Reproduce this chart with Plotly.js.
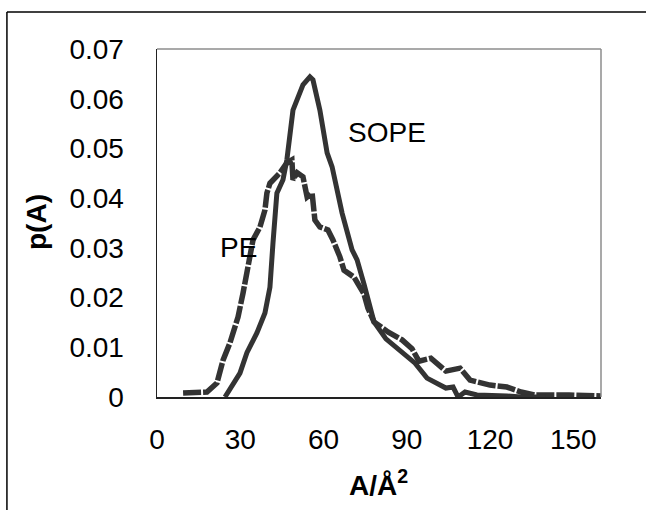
<!DOCTYPE html>
<html>
<head>
<meta charset="utf-8">
<script src="https://cdn.plot.ly/plotly-3.0.1.min.js"></script>
<style>html,body{margin:0;padding:0;background:#fff;}#chart{width:646px;height:510px;}</style>
</head>
<body>
<div id="chart"></div>
<script>
// SOPE (solid line)
var sopeX = [24.5, 25.6, 29.9, 32.4, 36.0, 38.9, 40.7, 41.8, 43.2, 45.4, 46.8, 49.0, 52.6, 55.1, 56.2, 58.7, 61.3, 63.1, 66.7, 70.3, 72.1, 74.6, 76.4, 78.2, 82.5, 86.8, 93.0, 97.3, 104.1, 106.7, 108.5, 111.0, 115.3, 126.1, 131.2, 140];
var sopeY = [0, 0.001, 0.0048, 0.0089, 0.0129, 0.0169, 0.0221, 0.031, 0.041, 0.0437, 0.0477, 0.0577, 0.0628, 0.0644, 0.0638, 0.0577, 0.0491, 0.0463, 0.037, 0.0296, 0.0276, 0.0227, 0.0193, 0.0151, 0.0117, 0.0097, 0.0068, 0.0038, 0.0018, 0.002, 0, 0.001, 0.0004, 0.0002, 0, 0];
// PE (dashed line)
var peX = [9.4, 18.0, 21.6, 23.8, 26.3, 29.2, 31.0, 32.8, 34.6, 37.1, 38.9, 39.6, 40.7, 44.3, 46.8, 48.6, 49.0, 50.5, 52.6, 54.1, 55.9, 56.9, 58.7, 61.6, 63.4, 65.9, 67.4, 71.0, 74.6, 76.0, 78.2, 83.2, 88.3, 91.9, 94.4, 98.7, 104.1, 109.2, 112.8, 120.0, 126.1, 131.2, 136.2, 148.5, 160];
var peY = [0.0008, 0.001, 0.0028, 0.0074, 0.0109, 0.0161, 0.0209, 0.0262, 0.0316, 0.0342, 0.0376, 0.041, 0.043, 0.0451, 0.0471, 0.0477, 0.0437, 0.0451, 0.0443, 0.0402, 0.041, 0.0356, 0.0342, 0.0336, 0.0316, 0.0282, 0.0255, 0.0241, 0.0207, 0.0179, 0.0151, 0.0131, 0.0115, 0.0097, 0.0072, 0.0078, 0.0052, 0.0058, 0.0034, 0.0024, 0.002, 0.001, 0.0004, 0.0004, 0.0002];
var xTicks = [0, 30, 60, 90, 120, 150];
var yTicks = [0, 0.01, 0.02, 0.03, 0.04, 0.05, 0.06, 0.07];
var yTickText = ['0', '0.01', '0.02', '0.03', '0.04', '0.05', '0.06', '0.07'];

var font = 'Liberation Sans, Arial, sans-serif';
var traces = [
  {x: peX, y: peY, mode: 'lines', line: {color: '#333333', width: 5.5, dash: '18px,2px'}, name: 'PE'},
  {x: sopeX, y: sopeY, mode: 'lines', line: {color: '#333333', width: 5}, name: 'SOPE'}
];
var layout = {
  width: 646, height: 510,
  margin: {l: 157, r: 45, t: 49, b: 113, pad: 0},
  paper_bgcolor: '#ffffff', plot_bgcolor: '#ffffff',
  showlegend: false,
  font: {family: font, color: '#000000', size: 28},
  xaxis: {
    range: [0, 160], tickvals: xTicks, ticks: '', showgrid: false, zeroline: false,
    showline: true, linecolor: '#222222', linewidth: 1.5,
    tickfont: {family: font, size: 28, color: '#000'}, ticklabelstandoff: 17
  },
  yaxis: {
    range: [0, 0.07], tickvals: yTicks, ticktext: yTickText, ticks: '', showgrid: false, zeroline: false,
    showline: true, linecolor: '#222222', linewidth: 1.5,
    tickfont: {family: font, size: 28, color: '#000'}, ticklabelstandoff: 26
  },
  shapes: [
    {type: 'line', xref: 'paper', yref: 'paper', x0: 0, x1: 1, y0: 1, y1: 1, line: {color: '#8c8c8c', width: 1.5}},
    {type: 'line', xref: 'paper', yref: 'paper', x0: 1, x1: 1, y0: 0, y1: 1, line: {color: '#8c8c8c', width: 1.5}},
    {type: 'line', xref: 'paper', yref: 'paper', x0: -0.338, x1: 1.11, y0: 1.106, y1: 1.106, line: {color: '#000', width: 1.5}},
    {type: 'line', xref: 'paper', yref: 'paper', x0: -0.338, x1: -0.338, y0: -0.33, y1: 1.106, line: {color: '#000', width: 1.5}}
  ],
  annotations: [
    {text: 'SOPE', x: 82.9, y: 0.0533, xref: 'x', yref: 'y', showarrow: false, xanchor: 'center', yanchor: 'middle', font: {family: font, size: 28, color: '#000'}},
    {text: 'PE', x: 29.2, y: 0.030, xref: 'x', yref: 'y', showarrow: false, xanchor: 'center', yanchor: 'middle', font: {family: font, size: 28, color: '#000'}},
    {text: '<b>p(A)</b>', xref: 'paper', yref: 'paper', x: (36 - 157) / 444, y: (397 - 222) / 348, xanchor: 'center', yanchor: 'middle', showarrow: false, textangle: -90, font: {family: font, size: 28, color: '#000'}},
    {text: '<b>A/Å<sup>2</sup></b>', xref: 'paper', yref: 'paper', x: (378 - 157) / 444, y: (397 - 483) / 348, xanchor: 'center', yanchor: 'middle', showarrow: false, font: {family: font, size: 28, color: '#000'}}
  ]
};
Plotly.newPlot('chart', traces, layout, {displayModeBar: false, staticPlot: true});
</script>
</body>
</html>
